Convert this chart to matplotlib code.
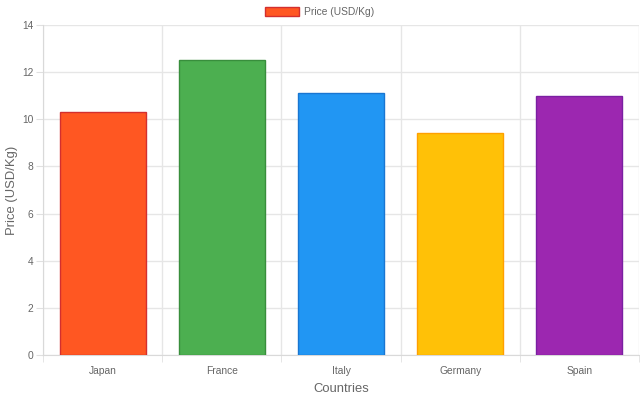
import matplotlib
matplotlib.use("Agg")
import matplotlib.pyplot as plt
from matplotlib.patches import Patch

countries = ["Japan", "France", "Italy", "Germany", "Spain"]
prices = [10.3, 12.5, 11.1, 9.4, 11.0]
fill_colors = ["#FF5722", "#4CAF50", "#2196F3", "#FFC107", "#9C27B0"]
edge_colors = ["#D32F2F", "#388E3C", "#1976D2", "#FFA000", "#7B1FA2"]
y_ticks = [0, 2, 4, 6, 8, 10, 12, 14]

plt.rcParams['font.family'] = ['Liberation Sans', 'DejaVu Sans']

fig = plt.figure(figsize=(6.4, 4.0), dpi=100)
ax = fig.add_axes([43/640, 45/400, 596/640, 330/400])

x = list(range(len(countries)))
ax.bar(x, prices, width=0.72, color=fill_colors, edgecolor=edge_colors, linewidth=1.0, zorder=3)

ax.set_xlim(-0.5, len(countries) - 0.5)
ax.set_ylim(0, 14)
ax.set_yticks(y_ticks)
ax.set_yticklabels([str(v) for v in y_ticks])
ax.set_xticks(x)
ax.set_xticklabels(countries)
ax.set_xticks([i - 0.5 for i in range(len(countries) + 1)], minor=True)

ax.grid(False)
ax.yaxis.grid(True, color="#e6e6e6", linewidth=1, zorder=0)
ax.xaxis.grid(True, which="minor", color="#e6e6e6", linewidth=1, zorder=0)

for s in ["top", "right"]:
    ax.spines[s].set_visible(False)
ax.spines["left"].set_color("#d9d9d9")
ax.spines["bottom"].set_color("#d9d9d9")

ax.tick_params(axis="y", length=5, color="#e0e0e0", labelsize=7.4, labelcolor="#666666", pad=2)
ax.tick_params(axis="x", which="major", length=0, labelsize=7.4, labelcolor="#666666", pad=8)
ax.tick_params(axis="x", which="minor", length=5, color="#e0e0e0")

ax.set_xlabel("Countries", fontsize=9.4, color="#666666", labelpad=5)
ax.set_ylabel("Price (USD/Kg)", fontsize=9.4, color="#666666", labelpad=3)

handle = Patch(facecolor=fill_colors[0], edgecolor=edge_colors[0], linewidth=1.0)
fig.legend([handle], ["Price (USD/Kg)"], loc="center", bbox_to_anchor=(0.5, 1 - 12/400),
           frameon=False, fontsize=7.4, labelcolor="#666666",
           handlelength=3.3, handleheight=1.0, handletextpad=0.5)

fig.savefig("out.png", dpi=100)
